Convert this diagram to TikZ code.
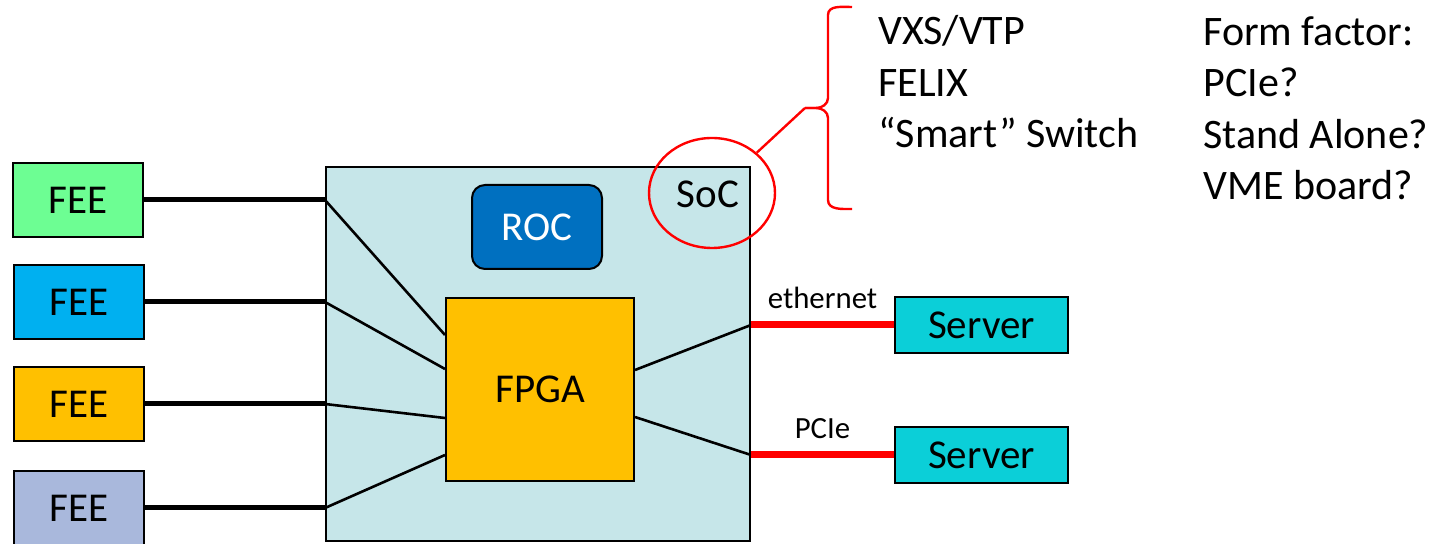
\documentclass[tikz,border=0pt]{standalone}
\usepackage{fontspec}
\setmainfont{Carlito}
\usetikzlibrary{positioning, shapes.geometric}
\definecolor{feegreen}{HTML}{6DFE93}
\definecolor{feeblue}{HTML}{00B0F0}
\definecolor{feeorange}{HTML}{FFC000}
\definecolor{feelilac}{HTML}{A9B8DC}
\definecolor{socfill}{HTML}{C6E6E9}
\definecolor{rocblue}{HTML}{0070C0}
\definecolor{servercyan}{HTML}{0BCFD8}
\tikzstyle{base} = [draw=black, line width=1pt, inner sep=0pt, text centered]
\tikzstyle{fee} = [base, rectangle, minimum width=65pt, minimum height=37pt, font=\fontsize{20.5}{24}\selectfont]
\tikzstyle{chip} = [base, rectangle, font=\fontsize{20.5}{24}\selectfont]
\tikzstyle{server} = [base, rectangle, fill=servercyan, minimum width=86.5pt, minimum height=28pt, font=\fontsize{20.5}{24}\selectfont]
\tikzstyle{feeline} = [line width=2.5pt]
\tikzstyle{bus} = [line width=1.3pt]
\tikzstyle{redlink} = [red, line width=3.5pt]
\tikzstyle{linklabel} = [above=6.5pt, inner sep=0pt, text=black, font=\fontsize{15.4}{18}\selectfont]
\tikzstyle{remark} = [red, line width=1.2pt]
\tikzstyle{notes} = [anchor=base west, align=left, inner sep=0pt, font=\fontsize{21}{25.75}\selectfont]

\begin{document}
\begin{tikzpicture}[x=0.5pt, y=-0.5pt]
\useasboundingbox (0,0) rectangle (1451,544);

\node (SOC) [base, rectangle, fill=socfill, minimum width=212pt, minimum height=187pt] at (538,354) {};
\node (ROC) [chip, rounded corners=6.5pt, fill=rocblue, text=white, minimum width=65pt, minimum height=42pt] at (537,227) {ROC};
\node (FPGA) [chip, fill=feeorange, minimum width=94pt, minimum height=91.5pt] at (540,389.5) {FPGA};
\node (SOC_TEXT) [inner sep=0pt, font=\fontsize{20.5}{24}\selectfont] at (708,194) {SoC};

\node (FEE_A) [fee, fill=feegreen] at (78,200) {FEE};
\node (FEE_B) [fee, fill=feeblue] at (79,302) {FEE};
\node (FEE_C) [fee, fill=feeorange] at (79,404) {FEE};
\node (FEE_D) [fee, fill=feelilac] at (79,508) {FEE};

\node (SERVER_ETH) [server] at (981.5,325) {Server};
\node (SERVER_PCIE) [server] at (981.5,455) {Server};

\draw [feeline] (FEE_A) -- (SOC.west |- FEE_A);
\draw [feeline] (FEE_B) -- (SOC.west |- FEE_B);
\draw [feeline] (FEE_C) -- (SOC.west |- FEE_C);
\draw [feeline] (FEE_D) -- (SOC.west |- FEE_D);

\draw [bus] (SOC.west |- FEE_A) -- (FPGA.west |- 0,335);
\draw [bus] (SOC.west |- FEE_B) -- (FPGA.west |- 0,369);
\draw [bus] (SOC.west |- FEE_C) -- (FPGA.west |- 0,418);
\draw [bus] (SOC.west |- FEE_D) -- (FPGA.west |- 0,455);

\draw [bus] (FPGA.east |- 0,370) -- (SOC.east |- SERVER_ETH);
\draw [bus] (FPGA.east |- 0,417) -- (SOC.east |- SERVER_PCIE);

\draw [redlink] (SOC.east |- SERVER_ETH) -- node[linklabel]{ethernet} (SERVER_ETH);
\draw [redlink] (SOC.east |- SERVER_PCIE) -- node[linklabel]{PCIe} (SERVER_PCIE);

% SoC callout
\node (SOC_MARK) [ellipse, draw=red, line width=1.2pt, minimum width=63pt, minimum height=55pt, inner sep=0pt] at (712,193) {};
\coordinate (BRACE_TIP) at (805,108);
\draw [remark] (SOC_MARK.42) -- (BRACE_TIP);
\draw [remark] (852,7) to[out=180, in=90] (828,15) -- (828,98) to[out=-90, in=0] (816,108) -- (BRACE_TIP);
\draw [remark] (BRACE_TIP) -- (816,108) to[out=0, in=90] (828,118) -- (828,200) to[out=-90, in=180] (852,209);

\node (OPTIONS) [notes] at (878,148) {VXS/VTP\\FELIX\\“Smart” Switch};
\node (FORM_FACTOR) [notes] at (1203,200) {Form factor:\\PCIe?\\Stand Alone?\\VME board?};

\end{tikzpicture}
\end{document}
